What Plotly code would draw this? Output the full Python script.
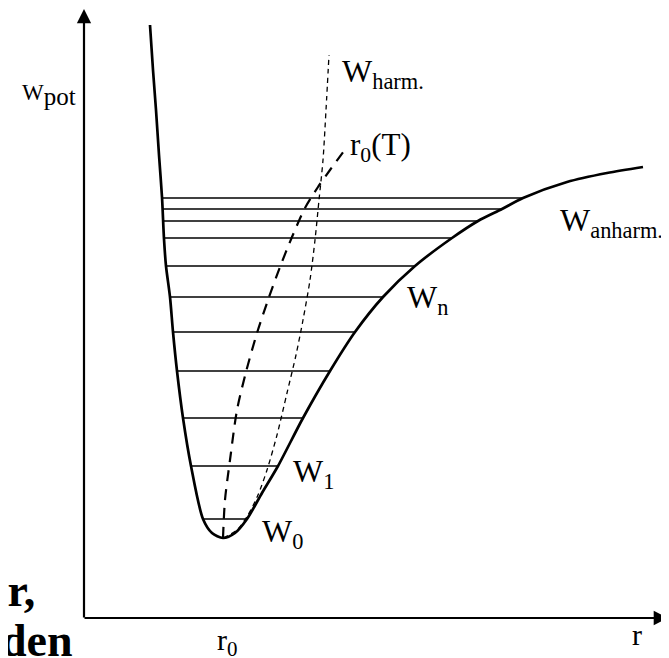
import plotly.graph_objects as go

# Morse-type (anharmonic) potential curve (arbitrary units)
r_curve = [150, 153, 156, 159, 162, 164, 166, 170, 173, 177, 183, 191, 203, 212, 223,
           235, 247, 262, 278, 303, 330, 355, 383, 415, 452, 478, 502, 523, 567, 607, 643]
W_curve = [633, 588, 548, 503, 461, 419, 392, 361, 326, 287, 240, 192, 139, 125, 120,
           125, 139, 165, 192, 240, 287, 326, 361, 392, 420, 437, 449, 460, 476, 485, 491]

# Vibrational levels W0 ... Wn
level_W = [139, 192, 240, 287, 326, 361, 392, 420, 437, 449, 460]
level_left = [203, 191, 183, 177, 173, 170, 166, 164, 163, 163, 162]
level_right = [247, 278, 303, 330, 355, 383, 415, 452, 478, 502, 523]

# Harmonic approximation (right branch)
r_harm = [223, 237, 248, 258, 267, 277, 287, 296, 303, 310, 315, 319, 323, 326, 329]
W_harm = [120, 128, 143, 163, 188, 223, 265, 303, 338, 378, 418, 458, 498, 548, 603]

# Mean distance r0(T)
r_r0T = [223, 225, 230, 237, 246, 257, 268, 280, 292, 305, 318, 330, 347]
W_r0T = [120, 158, 198, 248, 286, 325, 358, 391, 421, 450, 471, 488, 511]

# Axis frame
axis_origin = (84, 40)
axis_x_end = 668
axis_y_end = 649

FONT = "Liberation Serif"

fig = go.Figure()

# energy levels
lx, ly = [], []
for w, a, b in zip(level_W, level_left, level_right):
    lx += [a, b, None]
    ly += [w, w, None]
fig.add_trace(go.Scatter(x=lx, y=ly, mode="lines",
                         line=dict(color="black", width=1.7), hoverinfo="skip"))

# potential curve
fig.add_trace(go.Scatter(x=r_curve, y=W_curve, mode="lines",
                         line=dict(color="black", width=2.7, shape="spline", smoothing=0.8),
                         hoverinfo="skip"))

# harmonic
fig.add_trace(go.Scatter(x=r_harm, y=W_harm, mode="lines",
                         line=dict(color="black", width=1.3, dash="5px,4px",
                                   shape="spline", smoothing=0.8),
                         hoverinfo="skip"))

# r0(T)
fig.add_trace(go.Scatter(x=r_r0T, y=W_r0T, mode="lines",
                         line=dict(color="black", width=2.2, dash="11px,8px",
                                   shape="spline", smoothing=0.8),
                         hoverinfo="skip"))

ann = []
# axes with arrows
ann.append(dict(x=axis_origin[0], y=axis_y_end, ax=axis_origin[0], ay=axis_origin[1] - 1,
                xref="x", yref="y", axref="x", ayref="y", text="", showarrow=True,
                arrowhead=2, arrowsize=1.3, arrowwidth=2.2, arrowcolor="black"))
ann.append(dict(x=axis_x_end, y=axis_origin[1], ax=axis_origin[0] - 1, ay=axis_origin[1],
                xref="x", yref="y", axref="x", ayref="y", text="", showarrow=True,
                arrowhead=2, arrowsize=1.3, arrowwidth=2.2, arrowcolor="black"))


def label(x, y, text, size, anchor="left", bold=False):
    t = f"<b>{text}</b>" if bold else text
    ann.append(dict(x=x, y=y, xref="x", yref="y", text=t, showarrow=False,
                    xanchor=anchor, yanchor="middle",
                    font=dict(family=FONT, size=size, color="black")))


label(20, 563, "W<sub><span style='font-size:25px'>pot</span></sub>", 23)
label(340, 585, "W<sub>harm.</sub>", 32)
label(348, 511, "r<sub>0</sub>(T)", 31)
label(558, 436, "W<sub>anharm.</sub>", 32)
label(405, 359, "W<sub>n</sub>", 32)
label(291, 185, "W<sub>1</sub>", 32)
label(260, 125, "W<sub>0</sub>", 32)
label(215, 16, "r<sub>0</sub>", 30)
label(630, 24, "r", 30)
label(37, 68, "ur,", 46, anchor="right", bold=True)
label(75, 18, "den", 46, anchor="right", bold=True)

# the page adds an 8px body margin, so the figure is 8px smaller and the ranges start at 8
fig.update_layout(
    width=661, height=650,
    margin=dict(l=0, r=0, t=0, b=0),
    paper_bgcolor="white", plot_bgcolor="white",
    showlegend=False,
    annotations=ann,
    xaxis=dict(range=[8, 669], visible=False, fixedrange=True),
    yaxis=dict(range=[0, 650], visible=False, fixedrange=True),
)

fig.write_html("out.html")
